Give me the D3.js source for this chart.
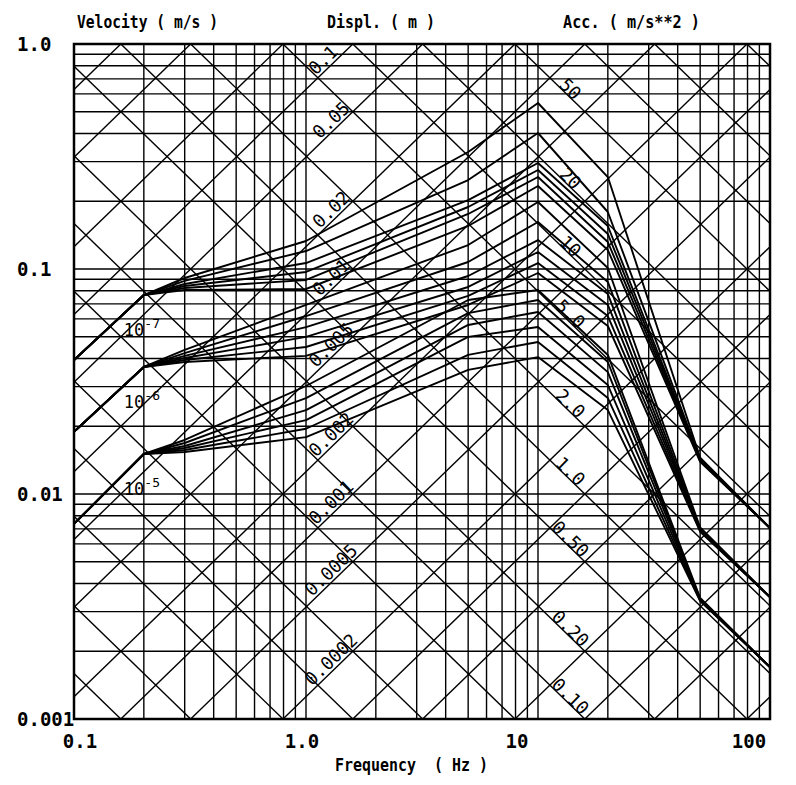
<!DOCTYPE html>
<html>
<head>
<meta charset="utf-8">
<script src="https://cdn.jsdelivr.net/npm/d3@7"></script>
<style>
  body { margin: 0; background: #fff; }
  text { font-family: "DejaVu Sans Mono", monospace; fill: #000; white-space: pre; }
</style>
</head>
<body>
<svg id="chart" width="796" height="785"></svg>
<script>
// frequency breakpoints (Hz) shared by all spectra
const freqs = [0.1, 0.2, 0.3, 1, 5, 10, 20, 50, 100];

// velocity (m/s) at each breakpoint, one row per curve
const velocity1e7 = [
  [0.0394, 0.0766, 0.0912, 0.1332, 0.3311, 0.5468, 0.2563, 0.0145, 0.00706],
  [0.0394, 0.0766, 0.0885, 0.1202, 0.2486, 0.4022, 0.1792, 0.0143, 0.00706],
  [0.0394, 0.0766, 0.0858, 0.1063, 0.2025, 0.2959, 0.1553, 0.0142, 0.00706],
  [0.0394, 0.0766, 0.0840, 0.0970, 0.1886, 0.2754, 0.1431, 0.0141, 0.00706],
  [0.0394, 0.0766, 0.0823, 0.0894, 0.1756, 0.2563, 0.1318, 0.0140, 0.00706],
  [0.0394, 0.0766, 0.0807, 0.0815, 0.1553, 0.2338, 0.1214, 0.0139, 0.00706]
];
const velocity1e6 = [
  [0.0189, 0.0367, 0.0437, 0.0692, 0.1278, 0.1985, 0.1010, 0.00710, 0.00348],
  [0.0189, 0.0367, 0.0423, 0.0618, 0.1074, 0.1618, 0.0876, 0.00700, 0.00348],
  [0.0189, 0.0367, 0.0411, 0.0552, 0.0931, 0.1345, 0.0774, 0.00695, 0.00348],
  [0.0189, 0.0367, 0.0402, 0.0499, 0.0832, 0.1190, 0.0692, 0.00690, 0.00348],
  [0.0189, 0.0367, 0.0394, 0.0450, 0.0759, 0.1063, 0.0618, 0.00685, 0.00348],
  [0.0189, 0.0367, 0.0386, 0.0411, 0.0692, 0.0960, 0.0558, 0.00680, 0.00348]
];
const velocity1e5 = [
  [0.00736, 0.01506, 0.01738, 0.0302, 0.0728, 0.0807, 0.0415, 0.00345, 0.00170],
  [0.00736, 0.01506, 0.01685, 0.0267, 0.0637, 0.0728, 0.0386, 0.00342, 0.00170],
  [0.00736, 0.01506, 0.01634, 0.0236, 0.0564, 0.0644, 0.0348, 0.00340, 0.00170],
  [0.00736, 0.01506, 0.01601, 0.0213, 0.0499, 0.0552, 0.0305, 0.00338, 0.00170],
  [0.00736, 0.01506, 0.01569, 0.0195, 0.0415, 0.0474, 0.0267, 0.00336, 0.00170],
  [0.00736, 0.01506, 0.01537, 0.0179, 0.0356, 0.0406, 0.0236, 0.00334, 0.00170]
];
const groups = [velocity1e7, velocity1e6, velocity1e5];
const groupExponents = ["-7", "-6", "-5"];

// axis ticks
const freqTicks = [0.1, 1, 10, 100];
const freqTickLabels = ["0.1", "1.0", "10", "100"];
const velTicks = [1, 0.1, 0.01, 0.001];
const velTickLabels = ["1.0", "0.1", "0.01", "0.001"];

// labelled diagonals
const displValues = [0.1, 0.05, 0.02, 0.01, 0.005, 0.002, 0.001, 0.0005, 0.0002];
const displLabels = ["0.1", "0.05", "0.02", "0.01", "0.005", "0.002", "0.001", "0.0005", "0.0002"];
const accValues = [50, 20, 10, 5, 2, 1, 0.5, 0.2, 0.1];
const accLabels = ["50", "20", "10", "5.0", "2.0", "1.0", "0.50", "0.20", "0.10"];

const svg = d3.select("#chart");
const pLeft = 74, pRight = 770, pTop = 44, pBottom = 719;

const x = d3.scaleLog().domain([0.1, 100]).range([pLeft, pRight]);
const y = d3.scaleLog().domain([0.001, 1]).range([pBottom, pTop]);
const TWO_PI = 2 * Math.PI;

svg.append("defs").append("clipPath").attr("id", "plot")
  .append("rect").attr("x", pLeft).attr("y", pTop)
  .attr("width", pRight - pLeft).attr("height", pBottom - pTop);

const grid = svg.append("g").attr("clip-path", "url(#plot)")
  .attr("stroke", "#000").attr("stroke-width", 1.4).attr("fill", "none");

// vertical + horizontal log grid (1..9 per decade)
const vLines = [], hLines = [];
[0.1, 1, 10].forEach(dec => d3.range(1, 10).forEach(k => vLines.push(k * dec)));
[0.001, 0.01, 0.1].forEach(dec => d3.range(1, 10).forEach(k => hLines.push(k * dec)));

grid.selectAll(null).data(vLines).enter().append("line")
  .attr("x1", d => x(d)).attr("x2", d => x(d))
  .attr("y1", pTop).attr("y2", pBottom);

grid.selectAll(null).data(hLines).enter().append("line")
  .attr("x1", pLeft).attr("x2", pRight)
  .attr("y1", d => y(d)).attr("y2", d => y(d));

// diagonal grid: displacement (V = 2 pi f D) and acceleration (V = A / 2 pi f), 1-2-5 steps
const displGrid = [], accGrid = [];
d3.range(-6, 1).forEach(e => [1, 2, 5].forEach(s => displGrid.push(s * Math.pow(10, e))));
d3.range(-3, 3).forEach(e => [1, 2, 5].forEach(s => accGrid.push(s * Math.pow(10, e))));

const fEnds = x.domain();
grid.selectAll(null).data(displGrid).enter().append("line")
  .attr("x1", x(fEnds[0])).attr("x2", x(fEnds[1]))
  .attr("y1", d => y(TWO_PI * fEnds[0] * d))
  .attr("y2", d => y(TWO_PI * fEnds[1] * d));

grid.selectAll(null).data(accGrid).enter().append("line")
  .attr("x1", x(fEnds[0])).attr("x2", x(fEnds[1]))
  .attr("y1", d => y(d / (TWO_PI * fEnds[0])))
  .attr("y2", d => y(d / (TWO_PI * fEnds[1])));

// spectra
const line = d3.line().x(d => x(d[0])).y(d => y(d[1]));
const curves = svg.append("g").attr("clip-path", "url(#plot)")
  .attr("fill", "none").attr("stroke", "#000").attr("stroke-width", 1.9)
  .attr("stroke-linejoin", "round");

groups.forEach(group => {
  curves.selectAll(null).data(group).enter().append("path")
    .attr("d", row => line(row.map((v, i) => [freqs[i], v])));
});

// frame
svg.append("rect").attr("x", pLeft).attr("y", pTop)
  .attr("width", pRight - pLeft).attr("height", pBottom - pTop)
  .attr("fill", "none").attr("stroke", "#000").attr("stroke-width", 2.5);

// group labels 10^-7 etc, placed under the 0.2 Hz knee
groups.forEach((group, i) => {
  const t = svg.append("text")
    .attr("x", x(freqs[1]) - 20)
    .attr("y", y(group[0][1]) + 41)
    .attr("font-size", 17);
  t.append("tspan").text("10");
  t.append("tspan").attr("dy", -8).attr("font-size", 13).text(groupExponents[i]);
});

// diagonal labels
const angle = Math.atan2(y(1) - y(0.1), x(10) - x(1)) * 180 / Math.PI; // ~ -44 deg
const diagLabels = svg.append("g").attr("font-size", 18).attr("text-anchor", "middle");

displValues.forEach((d, i) => {
  let xp = 337.5;
  // keep the top label inside the frame
  const yAt = xx => y(TWO_PI * x.invert(xx) * d);
  while (yAt(xp) < 66) xp -= 1;
  const yp = yAt(xp);
  diagLabels.append("text")
    .attr("transform", `translate(${xp},${yp}) rotate(${angle})`)
    .attr("dy", -3)
    .text(displLabels[i]);
});

accValues.forEach((a, i) => {
  const xp = 566;
  const yp = y(a / (TWO_PI * x.invert(xp)));
  diagLabels.append("text")
    .attr("transform", `translate(${xp},${yp}) rotate(${-angle})`)
    .attr("dy", 0)
    .text(accLabels[i]);
});

// axis tick labels
const tickGroup = svg.append("g").attr("font-size", 19).attr("font-weight", "bold");
tickGroup.selectAll(null).data(velTicks).enter().append("text")
  .attr("x", 17).attr("y", d => y(d)).attr("dy", "0.35em")
  .text((d, i) => velTickLabels[i]);

const xShift = [6, -4, -21, -21];
tickGroup.selectAll(null).data(freqTicks).enter().append("text")
  .attr("x", (d, i) => x(d) + xShift[i]).attr("y", 748)
  .attr("text-anchor", "middle")
  .text((d, i) => freqTickLabels[i]);

// titles
const titles = svg.append("g").attr("font-size", 17).attr("font-weight", "bold");
titles.append("text").attr("x", 77).attr("y", 28)
  .attr("textLength", 141).attr("lengthAdjust", "spacingAndGlyphs")
  .text("Velocity ( m/s )");
titles.append("text").attr("x", 327).attr("y", 28)
  .attr("textLength", 108).attr("lengthAdjust", "spacingAndGlyphs")
  .text("Displ. ( m )");
titles.append("text").attr("x", 563).attr("y", 28)
  .attr("textLength", 137).attr("lengthAdjust", "spacingAndGlyphs")
  .text("Acc. ( m/s**2 )");
titles.append("text").attr("x", 335).attr("y", 771)
  .attr("textLength", 153).attr("lengthAdjust", "spacingAndGlyphs")
  .text("Frequency  ( Hz )");
</script>
</body>
</html>
